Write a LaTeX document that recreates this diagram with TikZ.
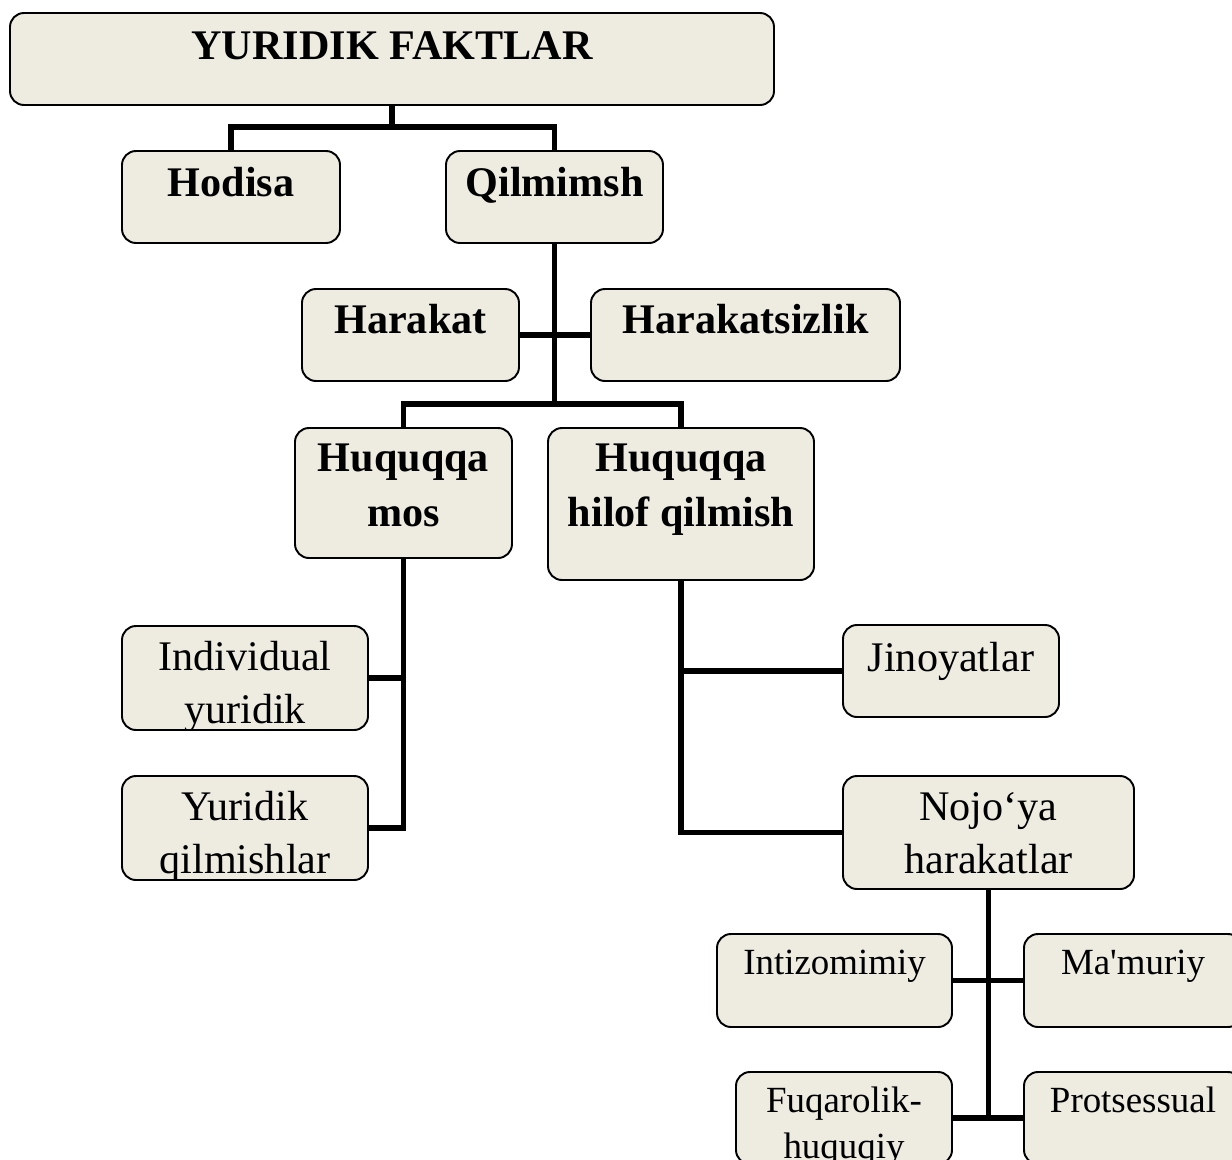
\documentclass[tikz,border=0pt]{standalone}
\usepackage{fontspec}
\setmainfont{Liberation Serif}[Ligatures=TeXOff]
\usetikzlibrary{fit,calc}
\definecolor{boxfill}{HTML}{EEECE1}

\begin{document}
\begin{tikzpicture}[
    x=0.02cm, y=-0.02cm,
    box/.style={rectangle, draw, line width=1.1pt, fill=boxfill, rounded corners=0.28cm, inner sep=0pt},
    head/.style={font=\bfseries\fontsize{24}{31}\selectfont, align=center, inner sep=0pt, anchor=base},
    txt/.style={font=\fontsize{24}{30}\selectfont, align=center, inner sep=0pt, anchor=base},
    small/.style={font=\fontsize{21}{26}\selectfont, align=center, inner sep=0pt, anchor=base},
    link/.style={line width=3pt, line join=miter}
]
    \useasboundingbox (0,0) rectangle (1232,1160);
    \clip (0,0) rectangle (1232,1160);

    % Top level
    \node[box, fit={(10,13) (774,105)}] (faktlar) {};
    \node[head] (faktlar-t) at ($(faktlar.north)+(0,47)$) {YURIDIK FAKTLAR};

    \node[box, fit={(122,151) (340,243)}] (hodisa) {};
    \node[head] (hodisa-t) at ($(hodisa.north)+(0,46)$) {Hodisa};

    \node[box, fit={(446,151) (663,243)}] (qilmish) {};
    \node[head] (qilmish-t) at ($(qilmish.north)+(0,46)$) {Qilmimsh};

    % Second level
    \node[box, fit={(302,289) (519,381)}] (harakat) {};
    \node[head] (harakat-t) at ($(harakat.north)+(0,45)$) {Harakat};

    \node[box, fit={(591,289) (900,381)}] (harakatsiz) {};
    \node[head] (harakatsiz-t) at ($(harakatsiz.north)+(0,45)$) {Harakatsizlik};

    % two-line texts: base is the last line
    \node[box, fit={(295,428) (512,558)}] (mos) {};
    \node[head] (mos-t) at ($(mos.north)+(0,99)$) {Huquqqa\\mos};

    \node[box, fit={(548,428) (814,580)}] (hilof) {};
    \node[head] (hilof-t) at ($(hilof.north)+(0,99)$) {Huquqqa\\hilof qilmish};

    % Left branch (text runs past the box bottom)
    \node[box, fit={(122,626) (368,730)}] (indiv) {};
    \begin{scope}
        \clip[rounded corners=0.28cm] (indiv.south west) rectangle (indiv.north east);
        \node[txt] (indiv-t) at ($(indiv.north)+(0,98)$) {Individual\\yuridik};
    \end{scope}

    \node[box, fit={(122,776) (368,880)}] (yurq) {};
    \begin{scope}
        \clip[rounded corners=0.28cm] (yurq.south west) rectangle (yurq.north east);
        \node[txt] (yurq-t) at ($(yurq.north)+(0,98)$) {Yuridik\\qilmishlar};
    \end{scope}

    % Right branch
    \node[box, fit={(843,625) (1059,717)}] (jinoyat) {};
    \node[txt] (jinoyat-t) at ($(jinoyat.north)+(0,47)$) {Jinoyatlar};

    \node[box, fit={(843,776) (1134,889)}] (nojoya) {};
    \node[txt] (nojoya-t) at ($(nojoya.north)+(0,98)$) {Nojo‘ya\\harakatlar};

    % Bottom level
    \node[box, fit={(717,934) (952,1027)}] (intizom) {};
    \node[small] (intizom-t) at ($(intizom.north)+(0,41)$) {Intizomimiy};

    \node[box, fit={(1024,934) (1242,1027)}] (mamuriy) {};
    \node[small] (mamuriy-t) at ($(mamuriy.north)+(0,41)$) {Ma'muriy};

    \node[box, fit={(736,1072) (952,1164)}] (fuqaro) {};
    \node[small] (fuqaro-t) at ($(fuqaro.north)+(0,87)$) {Fuqarolik-\\huquqiy};

    \node[box, fit={(1024,1072) (1242,1164)}] (protses) {};
    \node[small] (protses-t) at ($(protses.north)+(0,41)$) {Protsessual};

    % Connectors
    \draw[link] (faktlar.south) -- ++(0,23);
    \draw[link] (hodisa.north) -- ++(0,-23) -| (qilmish.north);
    \draw[link] (qilmish.south) -- ++(0,162);
    \draw[link] (harakat.east) -- (harakatsiz.west);
    \draw[link] (mos.north) -- ++(0,-23) -| (hilof.north);
    \draw[link] (mos.south) |- (yurq.east);
    \draw[link] (indiv.east) -- (indiv.east -| mos.south);
    \draw[link] (hilof.south) |- (nojoya.west);
    \draw[link] (jinoyat.west) -- (jinoyat.west -| hilof.south);
    \draw[link] (nojoya.south) -- (nojoya.south |- fuqaro.east);
    \draw[link] (intizom.east) -- (mamuriy.west);
    \draw[link] (fuqaro.east) -- (protses.west);
\end{tikzpicture}
\end{document}
